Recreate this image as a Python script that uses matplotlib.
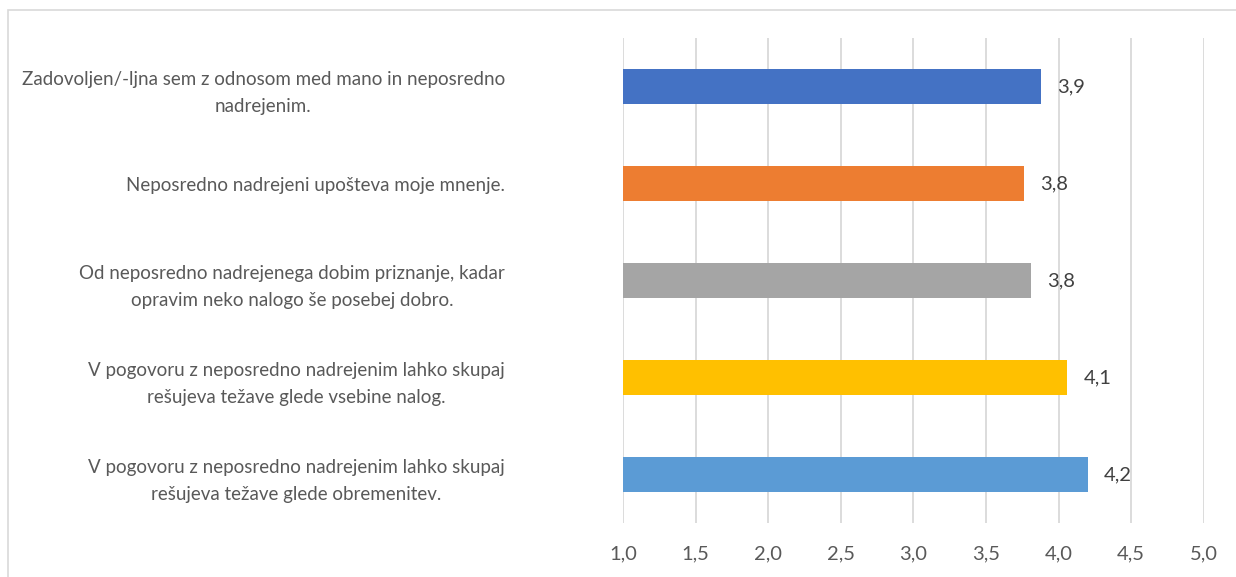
import matplotlib
matplotlib.use("Agg")
import matplotlib.pyplot as plt
from matplotlib.patches import Rectangle

# data
categories = [
    "Zadovoljen/-ljna sem z odnosom med mano in neposredno\nnadrejenim.",
    "Neposredno nadrejeni upošteva moje mnenje.",
    "Od neposredno nadrejenega dobim priznanje, kadar\nopravim neko nalogo še posebej dobro.",
    "V pogovoru z neposredno nadrejenim lahko skupaj\nrešujeva težave glede vsebine nalog.",
    "V pogovoru z neposredno nadrejenim lahko skupaj\nrešujeva težave glede obremenitev.",
]
values = [3.88, 3.76, 3.81, 4.06, 4.20]
colors = ["#4472C4", "#ED7D31", "#A5A5A5", "#FFC000", "#5B9BD5"]
x_ticks = [1.0, 1.5, 2.0, 2.5, 3.0, 3.5, 4.0, 4.5, 5.0]
x_min = 1.0

plt.rcParams['font.family'] = ['Lato', 'DejaVu Sans']
text_color = "#595959"
fsize = 13.5
num_size = 14.5

fig = plt.figure(figsize=(12.36, 5.77), dpi=100)
ax = fig.add_axes([0.504, 0.0936, 0.470, 0.8405])

# outer chart border (light gray), cut by the image edges on right and bottom
fig.patches.append(Rectangle((8 / 1236, -0.1), 1.2, 1 - 9.5 / 577 + 0.1,
                             transform=fig.transFigure, fill=False,
                             edgecolor="#D9D9D9", linewidth=1.2))

ypos = list(range(len(categories)))
widths = [v - x_min for v in values]
ax.barh(ypos, widths, left=x_min, height=0.36, color=colors, zorder=3)

for y, v in zip(ypos, values):
    ax.text(v + 0.11, y, f"{v:.1f}".replace(".", ","), va="center", ha="left",
            fontsize=num_size, color="#404040")

ax.set_xlim(1.0, 5.0)
ax.set_ylim(len(categories) - 0.5, -0.5)
ax.set_xticks(x_ticks)
ax.set_xticklabels([f"{t:.1f}".replace(".", ",") for t in x_ticks])
ax.set_yticks(ypos)
ax.set_yticklabels(categories, ha="right", multialignment="center", linespacing=1.7)

ax.tick_params(axis="x", length=0, pad=16, labelsize=num_size, labelcolor=text_color)
ax.tick_params(axis="y", length=0, pad=85, labelsize=fsize, labelcolor=text_color)
ax.grid(axis="x", color="#D9D9D9", linewidth=1.3, zorder=0)
for s in ax.spines.values():
    s.set_visible(False)

fig.savefig("out.png", dpi=100)
